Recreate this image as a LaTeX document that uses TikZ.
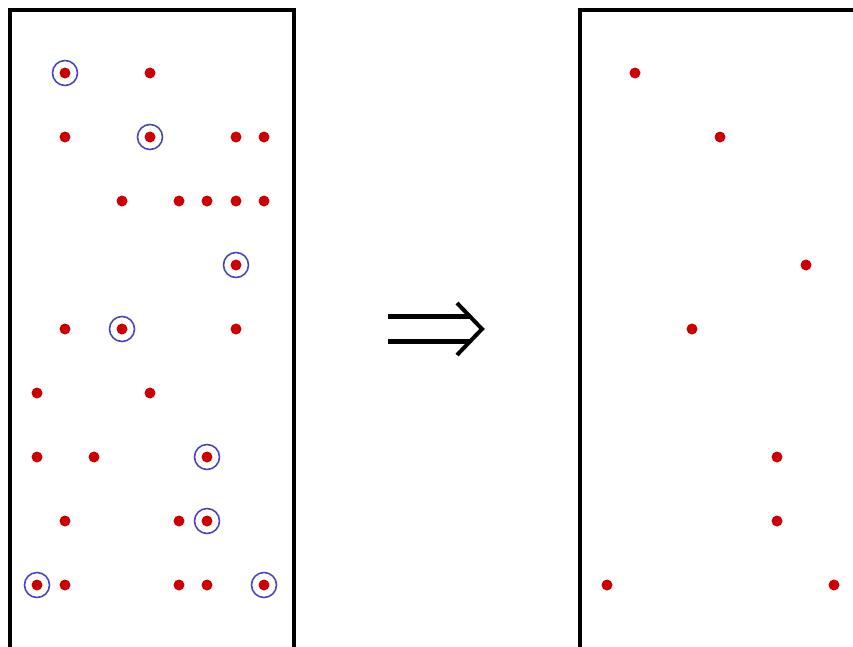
\documentclass[tikz,border=0pt]{standalone}
\usetikzlibrary{positioning}
\definecolor{dotred}{RGB}{204,0,0}
\definecolor{ringblue}{RGB}{70,70,190}
\begin{document}
\begin{tikzpicture}[x=1pt, y=-1pt,
	pt/.style={circle,fill=dotred,inner sep=0pt,minimum size=11pt},
	ring/.style={circle,draw=ringblue,line width=1.6pt,inner sep=0pt,minimum size=25pt},
	box/.style={draw=black,line width=3.5pt}]
	\clip (0,0) rectangle (853,646);
	\useasboundingbox (0,0) rectangle (853,646);
	% Boxes
	\draw [box] (10,700) -- (10,10) -- (294,10) -- (294,700);
	\draw [box] (580,700) -- (580,10) -- (900,10);
	% Left box: all points
	\node [pt] (a1) at (65,73) {};
	\node [pt] (a2) at (150,73) {};
	\node [pt] (b1) at (65,137) {};
	\node [pt] (b2) at (150,137) {};
	\node [pt] (b3) at (236,137) {};
	\node [pt] (b4) at (264,137) {};
	\node [pt] (c1) at (122,201) {};
	\node [pt] (c2) at (179,201) {};
	\node [pt] (c3) at (207,201) {};
	\node [pt] (c4) at (236,201) {};
	\node [pt] (c5) at (264,201) {};
	\node [pt] (d1) at (236,265) {};
	\node [pt] (e1) at (65,329) {};
	\node [pt] (e2) at (122,329) {};
	\node [pt] (e3) at (236,329) {};
	\node [pt] (f1) at (37,393) {};
	\node [pt] (f2) at (150,393) {};
	\node [pt] (g1) at (37,457) {};
	\node [pt] (g2) at (94,457) {};
	\node [pt] (g3) at (207,457) {};
	\node [pt] (h1) at (65,521) {};
	\node [pt] (h2) at (179,521) {};
	\node [pt] (h3) at (207,521) {};
	\node [pt] (i1) at (37,585) {};
	\node [pt] (i2) at (65,585) {};
	\node [pt] (i3) at (179,585) {};
	\node [pt] (i4) at (207,585) {};
	\node [pt] (i5) at (264,585) {};
	% Selected points
	\node [ring] at (a1) {};
	\node [ring] at (b2) {};
	\node [ring] at (d1) {};
	\node [ring] at (e2) {};
	\node [ring] at (g3) {};
	\node [ring] at (h3) {};
	\node [ring] at (i1) {};
	\node [ring] at (i5) {};
	% Right box: selected points only
	\node [pt] (ra) at (635,73) {};
	\node [pt] (rb) at (720,137) {};
	\node [pt] (rd) at (806,265) {};
	\node [pt] (re) at (692,329) {};
	\node [pt] (rg) at (777,457) {};
	\node [pt] (rh) at (777,521) {};
	\node [pt] (ri1) at (607,585) {};
	\node [pt] (ri5) at (834,585) {};
	% Arrow
	\coordinate (tail) at (388,329);
	\coordinate (tip) at (482,329);
	\draw [line width=5pt] ([yshift=-12.5pt]tail) -- ([xshift=-12pt,yshift=-12.5pt]tip);
	\draw [line width=5pt] ([yshift=12.5pt]tail) -- ([xshift=-12pt,yshift=12.5pt]tip);
	\draw [line width=4pt] ([xshift=-25pt,yshift=-26pt]tip) -- (tip) -- ([xshift=-25pt,yshift=26pt]tip);
\end{tikzpicture}
\end{document}
